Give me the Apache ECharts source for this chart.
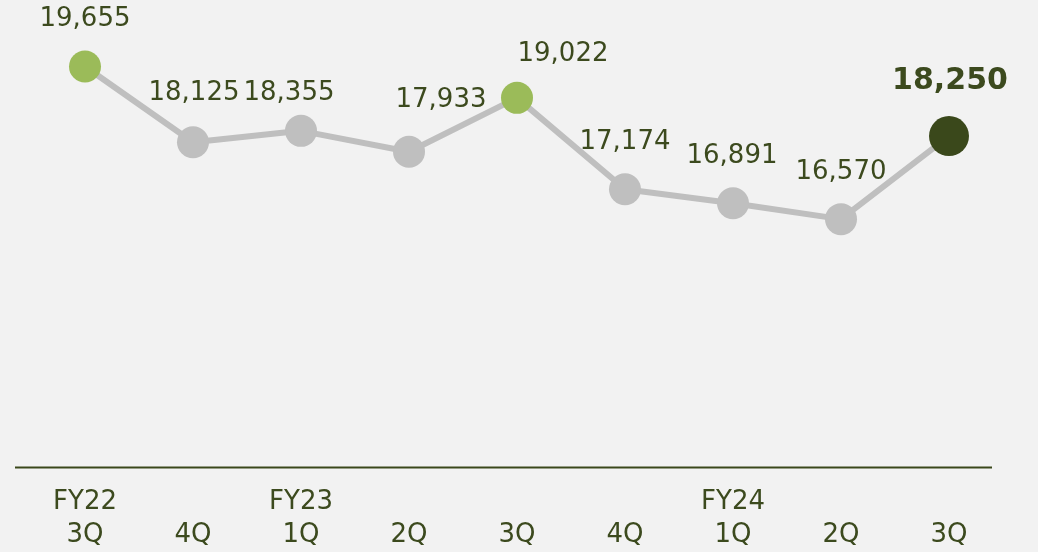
<!DOCTYPE html>
<html>
<head>
<meta charset="utf-8">
<script src="https://cdn.jsdelivr.net/npm/echarts@6/dist/echarts.min.js"></script>
<style>
  html, body { margin: 0; padding: 0; background: #f2f2f2; }
  #chart { width: 1038px; height: 552px; }
</style>
</head>
<body>
<div id="chart"></div>
<script>
// data
const fyLabels = ['FY22', '', 'FY23', '', '', '', 'FY24', '', '']
const quarterLabels = ['3Q', '4Q', '1Q', '2Q', '3Q', '4Q', '1Q', '2Q', '3Q']
const values = [19655, 18125, 18355, 17933, 19022, 17174, 16891, 16570, 18250]

// look
const C = {
  bg: '#f2f2f2',
  line: '#bfbfbf',
  green: '#9bbb59',
  dark: '#3a481b',
  text: '#3c4a1e'
}
const FONT = '"DejaVu Sans", Verdana, sans-serif'

// hand-placed labels in the reference (offset from point centre)
const labelShift = [[0, -47], [1, -49], [-12, -38], [32, -51], [46, -44], [0, -47], [-1, -47], [0, -47], [1, -55]]
const highlight = { 0: 'green', 4: 'green', 8: 'dark' }

const categories = quarterLabels.map((q, i) => (fyLabels[i] || ' ') + '\n' + q)

const fmt = (v) => v.toLocaleString('en-US')

const points = values.map((v, i) => {
  const kind = highlight[i]
  const last = kind === 'dark'
  return {
    value: v,
    symbolSize: last ? 40 : 32,
    itemStyle: { color: kind ? C[kind] : C.line },
    label: {
      offset: labelShift[i],
      fontSize: last ? 30 : 26,
      fontWeight: last ? 'bold' : 'normal'
    }
  }
})

const chart = echarts.init(document.getElementById('chart'))
chart.setOption({
  backgroundColor: C.bg,
  animation: false,
  grid: { top: 0, left: 85, right: 89, bottom: 85 },
  xAxis: {
    type: 'category',
    boundaryGap: false,
    data: categories,
    axisLine: { show: false },
    axisTick: { show: false },
    axisLabel: {
      color: C.text,
      fontFamily: FONT,
      fontSize: 26,
      lineHeight: 33,
      margin: 21,
      interval: 0
    }
  },
  yAxis: {
    type: 'value',
    min: 11600,
    max: 21000,
    show: false
  },
  // baseline runs wider than the plotted categories
  graphic: [{
    type: 'line',
    shape: { x1: 15, y1: 467.5, x2: 992, y2: 467.5 },
    style: { stroke: C.dark, lineWidth: 2 }
  }],
  series: [{
    type: 'line',
    data: points,
    symbol: 'circle',
    lineStyle: { color: C.line, width: 6 },
    label: {
      show: true,
      position: 'inside',
      color: C.text,
      fontFamily: FONT,
      formatter: (p) => fmt(p.value)
    },
    z: 3
  }]
})
</script>
</body>
</html>
